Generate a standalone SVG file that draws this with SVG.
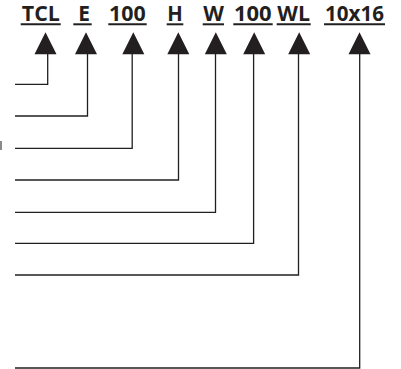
<svg xmlns="http://www.w3.org/2000/svg" width="401" height="369" viewBox="0 0 401 369">
<style>
.lbl{font-family:"Open Sans","Liberation Sans",sans-serif;font-weight:bold;font-size:20.5px;fill:#231f20;text-anchor:middle}
.ul{stroke:#231f20;stroke-width:2;fill:none}
.tri{fill:#231f20}
.conn{stroke:#231f20;stroke-width:1.3;fill:none}
</style>
<rect width="401" height="369" fill="#ffffff"/>
<rect x="0" y="141" width="2" height="9" fill="#8a8a8a"/>
<g id="node-tcl"><text class="lbl" x="40.8" y="21" textLength="38" lengthAdjust="spacingAndGlyphs">TCL</text><line class="ul" x1="20.7" y1="24.3" x2="60.7" y2="24.3"/><polygon class="tri" points="45.5,32.3 56.5,54.3 34.5,54.3"/></g>
<g id="node-e"><text class="lbl" x="84.2" y="21" textLength="11.7" lengthAdjust="spacingAndGlyphs">E</text><line class="ul" x1="73.3" y1="24.3" x2="91.7" y2="24.3"/><polygon class="tri" points="86,32.3 97,54.3 75,54.3"/></g>
<g id="node-100a"><text class="lbl" x="127.3" y="21" textLength="36.7" lengthAdjust="spacingAndGlyphs">100</text><line class="ul" x1="108.3" y1="24.3" x2="146.7" y2="24.3"/><polygon class="tri" points="133.3,32.3 144.3,54.3 122.3,54.3"/></g>
<g id="node-h"><text class="lbl" x="175" y="21" textLength="15.5" lengthAdjust="spacingAndGlyphs">H</text><line class="ul" x1="166.7" y1="24.3" x2="183.3" y2="24.3"/><polygon class="tri" points="178.3,32.3 189.3,54.3 167.3,54.3"/></g>
<g id="node-w"><text class="lbl" x="213.7" y="21" textLength="20.7" lengthAdjust="spacingAndGlyphs">W</text><line class="ul" x1="202.7" y1="24.3" x2="224" y2="24.3"/><polygon class="tri" points="215.8,32.3 226.8,54.3 204.8,54.3"/></g>
<g id="node-100b"><text class="lbl" x="252.8" y="21" textLength="37.7" lengthAdjust="spacingAndGlyphs">100</text><line class="ul" x1="233.3" y1="24.3" x2="272.7" y2="24.3"/><polygon class="tri" points="254.2,32.3 265.2,54.3 243.2,54.3"/></g>
<g id="node-wl"><text class="lbl" x="293.7" y="21" textLength="32.7" lengthAdjust="spacingAndGlyphs">WL</text><line class="ul" x1="276.7" y1="24.3" x2="310.7" y2="24.3"/><polygon class="tri" points="299.2,32.3 310.2,54.3 288.2,54.3"/></g>
<g id="node-10x16"><text class="lbl" x="354.5" y="21" textLength="59" lengthAdjust="spacingAndGlyphs">10x16</text><line class="ul" x1="324" y1="24.3" x2="385" y2="24.3"/><polygon class="tri" points="359.5,32.3 370.5,54.3 348.5,54.3"/></g>
<g id="connectors">
<polyline class="conn" points="15,84.3 47.7,84.3 47.7,54"/>
<polyline class="conn" points="15,116 87.5,116 87.5,54"/>
<polyline class="conn" points="15,148.3 132.2,148.3 132.2,54"/>
<polyline class="conn" points="15,180 178.5,180 178.5,54"/>
<polyline class="conn" points="15,212.3 215.5,212.3 215.5,54"/>
<polyline class="conn" points="15,243.3 253.6,243.3 253.6,54"/>
<polyline class="conn" points="15,275 298.5,275 298.5,54"/>
<polyline class="conn" points="15,368 359.7,368 359.7,54"/>
</g>
</svg>
